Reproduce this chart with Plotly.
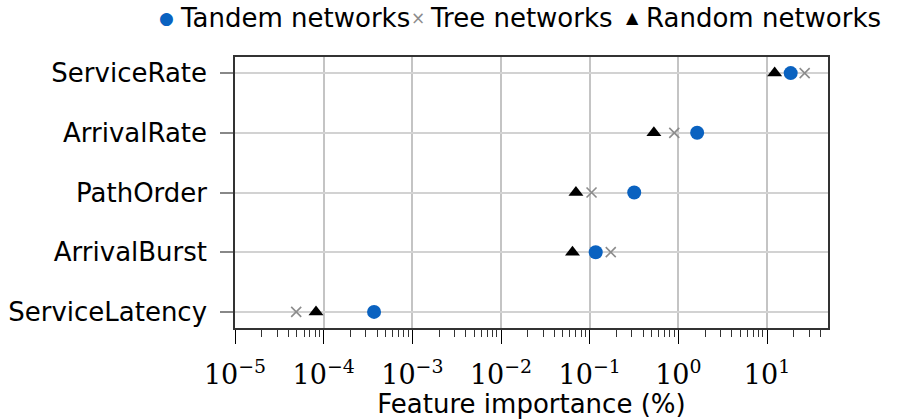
import plotly.graph_objects as go

# Features, listed bottom to top on the category axis
features = ["ServiceLatency", "ArrivalBurst", "PathOrder", "ArrivalRate", "ServiceRate"]

# Feature importance (%) per network family
tandem = [3.7e-4, 0.117, 0.318, 1.63, 18.5]
tree = [4.9e-5, 0.173, 0.105, 0.90, 26.6]
random_nets = [8.2e-5, 0.064, 0.070, 0.53, 12.2]

# Decade ticks on the log axis
tick_vals = [1e-5, 1e-4, 1e-3, 1e-2, 1e-1, 1, 10]
tick_text = ["10<sup>−5</sup>", "10<sup>−4</sup>", "10<sup>−3</sup>", "10<sup>−2</sup>",
             "10<sup>−1</sup>", "10<sup>0</sup>", "10<sup>1</sup>"]

series_names = ["Tandem networks", "Tree networks", "Random networks"]
series_colors = ["#0a62c0", "#8c8c8c", "black"]

sans = "DejaVu Sans"
serif = "DejaVu Serif"

W, H = 899, 419
ML, MR, MT, MB = 235, 71, 57, 91
PW, PH = W - ML - MR, H - MT - MB

fig = go.Figure()
fig.add_trace(go.Scatter(
    x=tandem, y=features, mode="markers", name=series_names[0],
    marker=dict(symbol="circle", size=14, color=series_colors[0]),
))
fig.add_trace(go.Scatter(
    x=tree, y=features, mode="markers", name=series_names[1],
    marker=dict(symbol="x-thin", size=10, line=dict(color=series_colors[1], width=1.6)),
))
fig.add_trace(go.Scatter(
    x=random_nets, y=features, mode="markers", name=series_names[2],
    marker=dict(symbol="triangle-up", size=13, color=series_colors[2]),
))


def px_x(px):
    return (px - ML) / PW


def px_y(py):
    return (H - MB - py) / PH


# Single-row legend across the top: glyph + label for each series
legend_glyphs = ["●", "×", "▲"]
glyph_sizes = [17, 17, 16]
glyph_px = [166, 418, 632]
label_px = [178, 428, 644]
legend_y = 18
annotations = []
for name, color, glyph, gsize, gx, lx in zip(series_names, series_colors, legend_glyphs,
                                             glyph_sizes, glyph_px, label_px):
    annotations.append(dict(
        x=px_x(gx), y=px_y(legend_y), xref="paper", yref="paper",
        text=glyph, showarrow=False, xanchor="center", yanchor="middle",
        font=dict(family=sans, size=gsize, color=color),
    ))
    annotations.append(dict(
        x=px_x(lx), y=px_y(legend_y), xref="paper", yref="paper",
        text=name, showarrow=False, xanchor="left", yanchor="middle",
        font=dict(family=sans, size=26, color="black"),
    ))

fig.update_layout(
    width=W, height=H,
    margin=dict(l=ML, r=MR, t=MT, b=MB, autoexpand=False),
    plot_bgcolor="white", paper_bgcolor="white",
    showlegend=False,
    annotations=annotations,
)

fig.update_xaxes(
    type="log", range=[-5, 1.688],
    title=dict(text="Feature importance (%)", font=dict(family=sans, size=26, color="black"), standoff=0),
    tickvals=tick_vals, ticktext=tick_text, tickangle=0,
    tickfont=dict(family=serif, size=27, color="black"),
    ticks="outside", ticklen=14, tickwidth=1.3, tickcolor="black",
    ticklabelstandoff=8,
    minor=dict(ticks="outside", ticklen=7, tickwidth=1.2, tickcolor="#333",
               dtick="D1", showgrid=False),
    showgrid=True, gridcolor="#c4c4c4", gridwidth=1.5,
    showline=True, linecolor="#333", linewidth=1.5, mirror=True,
    zeroline=False,
)
fig.update_yaxes(
    type="category", categoryorder="array", categoryarray=features,
    range=[-0.27, 4.27],
    tickfont=dict(family=sans, size=26, color="black"),
    ticks="outside", ticklen=13, tickwidth=1.5, tickcolor="#888",
    ticklabelstandoff=8,
    showgrid=True, gridcolor="#d2d2d2", gridwidth=2,
    showline=True, linecolor="#333", linewidth=1.5, mirror=True,
    zeroline=False,
)

fig.write_html("out.html")
